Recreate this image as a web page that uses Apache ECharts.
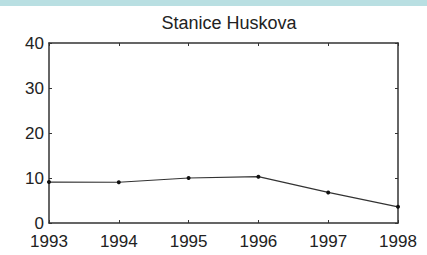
<!DOCTYPE html>
<html>
<head>
<meta charset="utf-8">
<script src="https://cdn.jsdelivr.net/npm/echarts@6/dist/echarts.min.js"></script>
<style>
  html, body { margin: 0; padding: 0; background: #fff; }
  #chart { width: 427px; height: 255px; }
</style>
</head>
<body>
<div id="chart"></div>
<script>
var years = [1993, 1994, 1995, 1996, 1997, 1998];
var values = [9.1, 9.05, 10.0, 10.3, 6.8, 3.6];
var yTicks = [0, 10, 20, 30, 40];

var ink = '#222';
var font = 'Liberation Sans, Arial, sans-serif';

var chart = echarts.init(document.getElementById('chart'), null, { renderer: 'svg' });

var frameAxis = {
  axisLine: { show: true, onZero: false, lineStyle: { color: '#333', width: 1.5 } },
  axisTick: { show: true, inside: true, length: 3, lineStyle: { color: '#333', width: 1 } },
  splitLine: { show: false }
};

chart.setOption({
  animation: false,
  graphic: [{
    type: 'rect',
    shape: { x: 0, y: 0, width: 427, height: 6 },
    style: { fill: '#b9dfe2' },
    silent: true
  }],
  title: {
    text: 'Stanice Huskova',
    left: 224,
    textAlign: 'center',
    top: 9,
    textStyle: { fontFamily: font, fontSize: 18, fontWeight: 'normal', color: ink }
  },
  grid: { left: 49, right: 29, top: 43, bottom: 32 },
  xAxis: [
    Object.assign({
      type: 'value', min: years[0], max: years[years.length - 1], interval: 1,
      position: 'bottom',
      axisLabel: { color: ink, fontFamily: font, fontSize: 17, margin: 10,
        formatter: function (v) { return String(v); } }
    }, frameAxis),
    Object.assign({
      type: 'value', min: years[0], max: years[years.length - 1], interval: 1,
      position: 'top',
      axisLabel: { show: false }
    }, frameAxis)
  ],
  yAxis: [
    Object.assign({
      type: 'value', min: yTicks[0], max: yTicks[yTicks.length - 1], interval: 10,
      position: 'left',
      axisLabel: { color: ink, fontFamily: font, fontSize: 17, margin: 5 }
    }, frameAxis),
    Object.assign({
      type: 'value', min: yTicks[0], max: yTicks[yTicks.length - 1], interval: 10,
      position: 'right',
      axisLabel: { show: false }
    }, frameAxis)
  ],
  series: [{
    type: 'line',
    data: years.map(function (y, i) { return [y, values[i]]; }),
    symbol: 'circle',
    symbolSize: 4,
    lineStyle: { color: '#333', width: 1.2 },
    itemStyle: { color: '#111' }
  }]
});
</script>
</body>
</html>
